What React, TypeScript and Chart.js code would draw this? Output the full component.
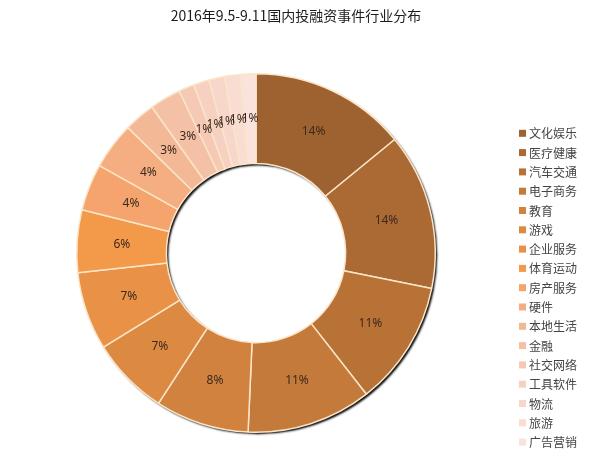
import React, { useEffect, useRef } from "react";
import { Chart, registerables } from "chart.js";

Chart.register(...registerables);

const TITLE = "2016年9.5-9.11国内投融资事件行业分布";

const categories = [
  "文化娱乐", "医疗健康", "汽车交通", "电子商务", "教育", "游戏",
  "企业服务", "体育运动", "房产服务", "硬件", "本地生活", "金融",
  "社交网络", "工具软件", "物流", "旅游", "广告营销",
];

const eventCounts = [10, 10, 8, 8, 6, 5, 5, 4, 3, 3, 2, 2, 1, 1, 1, 1, 1];

const sliceColors = [
  "#9e6231", "#ab6933", "#b87236", "#c47a3a", "#d0823e", "#dc8a42",
  "#e99146", "#f3994a", "#f4a46c", "#f4ae82", "#f3b896", "#f4c1a7",
  "#f5c9b5", "#f6d0c0", "#f7d7cb", "#f9ddd3", "#fae3dc",
];

export default function App() {
  const ref = useRef<HTMLCanvasElement>(null);

  useEffect(() => {
    document.body.style.margin = "0";
    const canvas = ref.current;
    if (!canvas) return;

    const ringShadow = {
      id: "ringShadow",
      beforeDatasetsDraw(chart: any) {
        const arc = chart.getDatasetMeta(0).data[0];
        if (!arc) return;
        const { x, y, outerRadius, innerRadius } = arc.getProps(
          ["x", "y", "outerRadius", "innerRadius"], true);
        const ctx = chart.ctx;
        ctx.save();
        ctx.beginPath();
        ctx.arc(x, y, outerRadius, 0, Math.PI * 2);
        ctx.moveTo(x + innerRadius, y);
        ctx.arc(x, y, innerRadius, 0, Math.PI * 2, true);
        ctx.closePath();
        ctx.shadowColor = "rgba(0,0,0,0.95)";
        ctx.shadowOffsetX = 2;
        ctx.shadowOffsetY = 2;
        ctx.shadowBlur = 2;
        ctx.fillStyle = "#fbe5c8";
        ctx.fill();
        ctx.restore();
      },
    };

    const sliceLabels = {
      id: "sliceLabels",
      afterDatasetsDraw(chart: any) {
        const ctx = chart.ctx;
        const data = chart.data.datasets[0].data as number[];
        const total = data.reduce((a, b) => a + b, 0);
        ctx.save();
        ctx.font = "12px 'Noto Sans', 'Open Sans', sans-serif";
        ctx.fillStyle = "#3c2a1e";
        ctx.textAlign = "center";
        ctx.textBaseline = "middle";
        chart.getDatasetMeta(0).data.forEach((arc: any, i: number) => {
          const p = arc.getProps(
            ["x", "y", "startAngle", "endAngle", "innerRadius", "outerRadius"], true);
          const mid = (p.startAngle + p.endAngle) / 2;
          const r = (p.innerRadius + p.outerRadius) / 2;
          const pct = Math.round((data[i] / total) * 100) + "%";
          ctx.fillText(pct, p.x + Math.cos(mid) * r, p.y + Math.sin(mid) * r);
        });
        ctx.restore();
      },
    };

    const titleAndLegend = {
      id: "titleAndLegend",
      afterDraw(chart: any) {
        const ctx = chart.ctx;
        ctx.save();
        ctx.font = "14px 'Noto Sans CJK SC', sans-serif";
        ctx.fillStyle = "#1c1c1c";
        ctx.textAlign = "center";
        ctx.textBaseline = "middle";
        ctx.fillText(TITLE, 296, 16);

        const labels = chart.data.labels as string[];
        const colors = chart.data.datasets[0].backgroundColor as string[];
        ctx.font = "12px 'Noto Sans CJK SC', sans-serif";
        ctx.textAlign = "left";
        labels.forEach((lab, i) => {
          const y = 133.3 + i * 19.3;
          ctx.fillStyle = colors[i];
          ctx.fillRect(519, y - 3.5, 7, 7);
          ctx.fillStyle = "#444444";
          ctx.fillText(lab, 529, y + 0.5);
        });
        ctx.restore();
      },
    };

    const chart = new Chart(canvas, {
      type: "doughnut",
      data: {
        labels: categories,
        datasets: [
          {
            data: eventCounts,
            backgroundColor: sliceColors,
            borderColor: "#fbe5c8",
            borderWidth: 1.5,
          },
        ],
      },
      options: {
        responsive: false,
        animation: false,
        cutout: "50%",
        layout: { padding: { top: 73, bottom: 33, left: 76, right: 164 } },
        plugins: {
          legend: { display: false },
          title: { display: false },
          tooltip: { enabled: false },
        },
      },
      plugins: [ringShadow, sliceLabels, titleAndLegend],
    });

    return () => chart.destroy();
  }, []);

  return (
    <canvas
      ref={ref}
      width={600}
      height={466}
      style={{ display: "block", width: 600, height: 466 }}
    />
  );
}
